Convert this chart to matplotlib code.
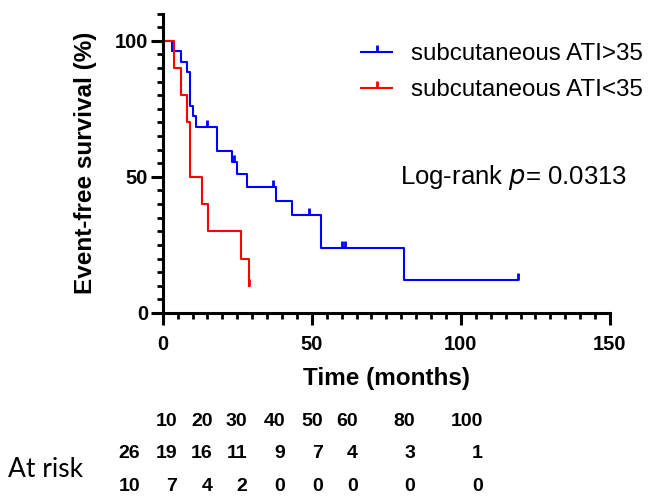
import matplotlib
matplotlib.use("Agg")
import matplotlib.pyplot as plt
from matplotlib.markers import TICKUP
from matplotlib.lines import Line2D
from matplotlib.ticker import MultipleLocator

# KM curves (months, % event-free)
blue_t = [0, 3.0, 6.1, 8.0, 9.2, 10.1, 11.1, 18.3, 23.1, 25.0, 28.2, 38.0, 43.3, 53.1, 81.0, 119.0]
blue_s = [100, 96.2, 92.3, 88.5, 76.2, 72.2, 68.2, 59.6, 55.6, 50.9, 46.3, 41.2, 36.1, 23.9, 12.0, 12.0]
blue_cens_t = [3.0, 15.0, 24.0, 37.1, 49.2, 60.0, 61.1, 119.0]
blue_cens_s = [96.2, 68.2, 55.6, 46.3, 36.1, 23.9, 23.9, 12.0]

red_t = [0, 3.9, 6.1, 8.0, 9.2, 13.1, 15.3, 26.2, 29.0]
red_s = [100, 90, 80, 70, 50, 40, 30, 20, 10]
red_cens_t = [29.0]
red_cens_s = [10]

labels = ["subcutaneous ATI>35", "subcutaneous ATI<35"]
pvalue = "0.0313"

# at-risk table
risk_times = ["10", "20", "30", "40", "50", "60", "80", "100"]
risk_high = ["26", "19", "16", "11", "9", "7", "4", "3", "1"]
risk_low = ["10", "7", "4", "2", "0", "0", "0", "0", "0"]

BLUE = "#0000ff"
RED = "#ff0000"
W, H = 649, 496

plt.rcParams["font.family"] = ["Liberation Sans", "DejaVu Sans"]

fig = plt.figure(figsize=(W / 100, H / 100), dpi=100)
ax = fig.add_axes([162.7 / W, 1 - 313 / H, (610 - 162.7) / W, (313 - 13.5) / H])

ax.plot(blue_t, blue_s, drawstyle="steps-post", color=BLUE, lw=1.5)
ax.plot(blue_cens_t, blue_cens_s, ls="none", marker=TICKUP, ms=5, mew=2, color=BLUE)
ax.plot(red_t, red_s, drawstyle="steps-post", color=RED, lw=1.5)
ax.plot(red_cens_t, red_cens_s, ls="none", marker=TICKUP, ms=5, mew=2, color=RED)

ax.set_xlim(0, 150)
ax.set_ylim(0, 110)
ax.xaxis.set_major_locator(MultipleLocator(50))
ax.xaxis.set_minor_locator(MultipleLocator(5))
ax.set_yticks([0, 50, 100])
ax.yaxis.set_minor_locator(MultipleLocator(5))
for s in ["top", "right"]:
    ax.spines[s].set_visible(False)
for s in ["left", "bottom"]:
    ax.spines[s].set_linewidth(2.2)
ax.tick_params(which="major", length=8.5, width=2.2, labelsize=14.5, pad=2)
ax.tick_params(which="minor", length=4, width=2)
ax.tick_params(axis="x", which="major", pad=7)
for lab in ax.get_xticklabels() + ax.get_yticklabels():
    lab.set_fontweight("bold")
ax.set_xlabel("Time (months)", fontsize=17.5, fontweight="bold", labelpad=10)
ax.set_ylabel("Event-free survival (%)", fontsize=17.5, fontweight="bold", labelpad=13)

handles = [Line2D([0], [0], color=c, lw=1.5, marker=TICKUP, ms=5, mew=2)
           for c in (BLUE, RED)]
ax.legend(handles, labels, loc="upper left", bbox_to_anchor=(361 / W, 1 - 43 / H),
          bbox_transform=fig.transFigure, frameon=False, fontsize=17.4,
          handlelength=1.3, handletextpad=0.75, labelspacing=0.6,
          borderpad=0, borderaxespad=0)

ax.text(400 / W, 1 - 177 / H, "Log-rank $\\it{p}$= " + pvalue, transform=fig.transFigure,
        fontsize=18.5, va="center", ha="left")

# number at risk table
col_right = [140, 177, 213, 247, 285, 323, 358, 415, 483]
for x, t in zip(col_right[1:], risk_times):
    fig.text(x / W, 1 - 421.5 / H, t, ha="right", va="center", fontsize=14,
             fontweight="bold")
for x, v in zip(col_right, risk_high):
    fig.text(x / W, 1 - 454 / H, v, ha="right", va="center", fontsize=14,
             fontweight="bold")
for x, v in zip(col_right, risk_low):
    fig.text(x / W, 1 - 486.5 / H, v, ha="right", va="center", fontsize=14,
             fontweight="bold")
fig.text(8 / W, 1 - 477 / H, "At risk", ha="left", va="baseline", fontsize=19,
         family=["Lato", "DejaVu Sans"])

fig.savefig("out.png", dpi=100)
